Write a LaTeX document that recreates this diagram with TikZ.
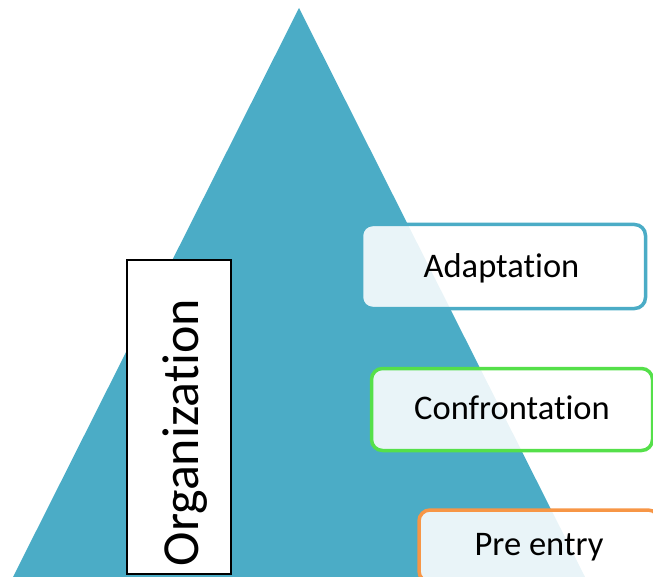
\documentclass[tikz,border=0pt]{standalone}
\usepackage{fontspec}
\setmainfont[Ligatures={NoCommon}]{Carlito}
\definecolor{pyramid}{HTML}{4BACC6}
\definecolor{stageblue}{HTML}{4BACC6}
\definecolor{stagegreen}{HTML}{55E04A}
\definecolor{stageorange}{HTML}{F79646}
\begin{document}
\begin{tikzpicture}[x=1pt,y=-1pt,
  stagebox/.style={draw, line width=3.5pt, rounded corners=11pt,
    fill=white, fill opacity=0.88, draw opacity=1, inner sep=0pt},
  stagetext/.style={anchor=base, font=\fontsize{34.5}{40}\selectfont, inner sep=0pt, text=black},
  orgbox/.style={draw=black, line width=1.5pt, fill=white, inner sep=0pt}]
  \useasboundingbox (0,0) rectangle (653,577);
  \clip (0,0) rectangle (653,577);

  % pyramid
  \fill[pyramid] (299,8) -- (585,577) -- (13,577) -- cycle;

  % side box with the rotated label
  \node[orgbox, minimum width=104pt, minimum height=314pt] (org) at (179,417) {};
  \node[anchor=base, rotate=90, font=\fontsize{52}{60}\selectfont, inner sep=0pt]
    (orgtext) at (198,432.5) {Organization};

  % stage boxes
  \node[stagebox, draw=stageblue, minimum width=284pt, minimum height=84pt] (adapt) at (503.5,266.5) {};
  \node[stagetext] (adapttext) at (501.5,278) {Adaptation};

  \node[stagebox, draw=stagegreen, minimum width=281pt, minimum height=82pt] (confront) at (512,409.5) {};
  \node[stagetext] (confronttext) at (512,419) {Confrontation};

  \node[stagebox, draw=stageorange, minimum width=240pt, minimum height=72pt] (preentry) at (539,546) {};
  \node[stagetext] (preentrytext) at (539,555) {Pre entry};
\end{tikzpicture}
\end{document}
